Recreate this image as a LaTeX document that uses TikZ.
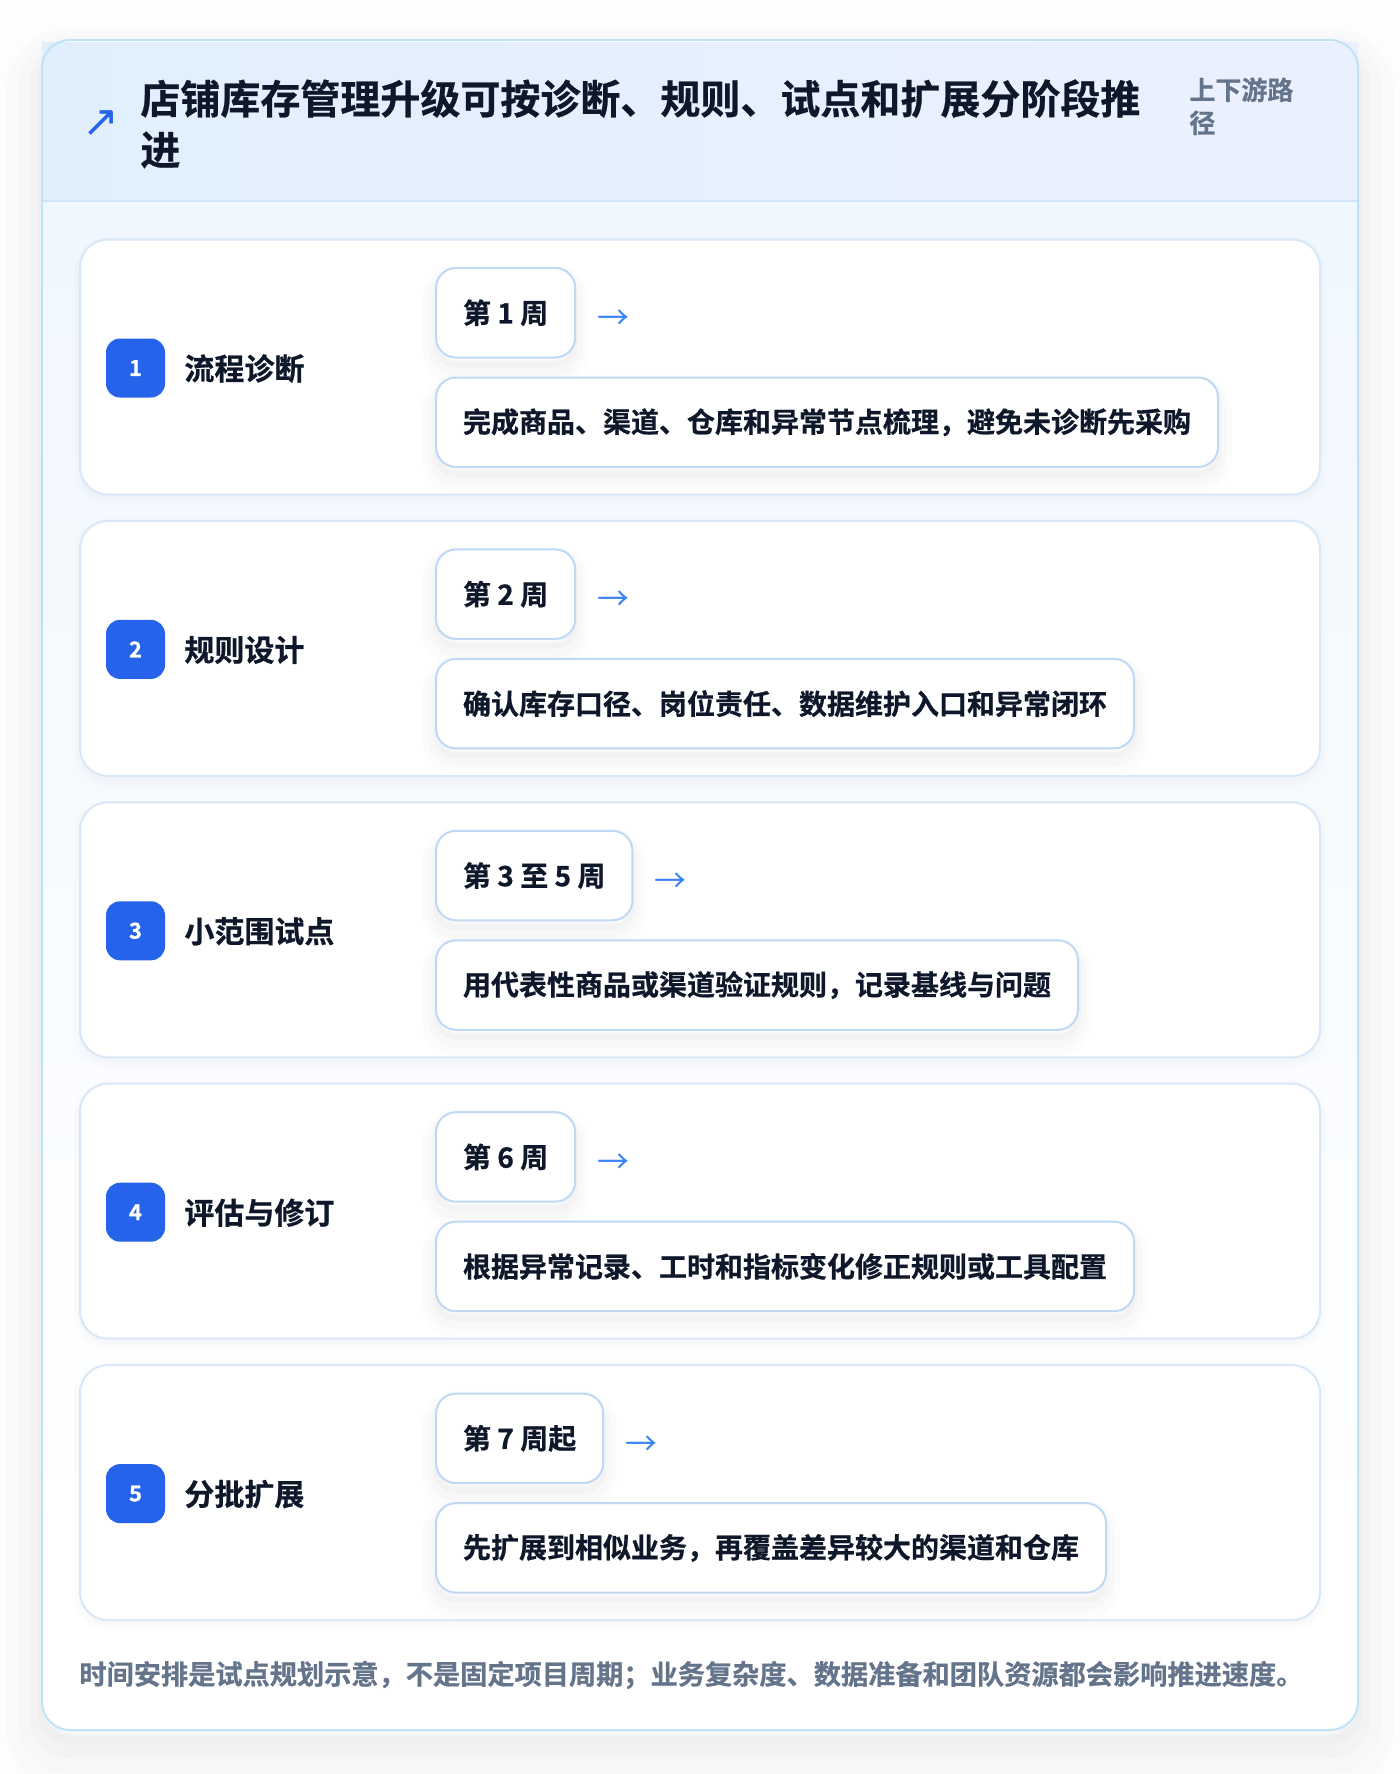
\documentclass[tikz,border=0pt]{standalone}
\usepackage{fontspec}
\setmainfont{Noto Sans CJK SC}[BoldFont={Noto Sans CJK SC Bold}, BoldFeatures={FakeBold=0.6}]
\newfontfamily\symfont{DejaVu Sans}
\usetikzlibrary{calc}
\definecolor{pagebg}{HTML}{FDFDFE}
\definecolor{shadowc}{HTML}{1E293B}
\definecolor{outerborder}{HTML}{BEE3F8}
\definecolor{hdrL}{HTML}{E1EFFD}
\definecolor{hdrR}{HTML}{EBF0FE}
\definecolor{hdrline}{HTML}{D3E5F8}
\definecolor{bodytop}{HTML}{F0F7FE}
\definecolor{cardborder}{HTML}{D8E8F8}
\definecolor{pillborder}{HTML}{BFD8F6}
\definecolor{badgeblue}{HTML}{2563EB}
\definecolor{ink}{HTML}{0F172A}
\definecolor{muted}{HTML}{64748B}
\definecolor{arrowc}{HTML}{3B82F6}
\tikzset{
  softshadow/.style={
    preaction={draw=shadowc, draw opacity=0.012, line width=14pt, transform canvas={yshift=-6pt}},
    preaction={draw=shadowc, draw opacity=0.016, line width=8pt, transform canvas={yshift=-5pt}},
    preaction={draw=shadowc, draw opacity=0.02, line width=3pt, transform canvas={yshift=-3.5pt}}},
  faintshadow/.style={
    preaction={draw=shadowc, draw opacity=0.01, line width=6pt, transform canvas={yshift=-2pt}},
    preaction={draw=shadowc, draw opacity=0.012, line width=2pt, transform canvas={yshift=-1.5pt}}},
  stagecard/.style={faintshadow, draw=cardborder, fill=white, line width=1pt, rounded corners=14pt,
    anchor=north west, minimum width=620pt, minimum height=127.5pt, inner sep=0pt},
  badgebox/.style={fill=badgeblue, rounded corners=7pt, minimum size=29.5pt, inner sep=0pt,
    text=white, font=\fontsize{11}{11}\selectfont\bfseries},
  stagetitle/.style={anchor=west, inner sep=0pt, text=ink, font=\fontsize{15}{15}\selectfont\bfseries},
  pillbox/.style={softshadow, draw=pillborder, fill=white, line width=1pt, rounded corners=10pt,
    anchor=north west, minimum height=44.75pt, inner xsep=13.5pt, inner ysep=0pt,
    text=ink, font=\fontsize{14}{14}\selectfont\bfseries},
  arrowtxt/.style={anchor=west, inner sep=0pt, text=arrowc, font=\fontsize{16}{16}\selectfont},
}
\begin{document}
\begin{tikzpicture}[x=0.5pt,y=-0.5pt]
\useasboundingbox (0,0) rectangle (1400,1774);
\fill[pagebg] (0,0) rectangle (1400,1774);
% outer card with soft shadow
\path[rounded corners=14pt,
  preaction={draw=shadowc, draw opacity=0.01, line width=36pt, transform canvas={yshift=-12pt}},
  preaction={draw=shadowc, draw opacity=0.013, line width=24pt, transform canvas={yshift=-10pt}},
  preaction={draw=shadowc, draw opacity=0.016, line width=12pt, transform canvas={yshift=-8pt}},
  preaction={draw=shadowc, draw opacity=0.018, line width=4pt, transform canvas={yshift=-5pt}},
  fill=white] (42,40) rectangle (1358,1730);
\begin{scope}
  \clip[rounded corners=14pt] (42,40) rectangle (1358,1730);
  \shade[top color=bodytop, bottom color=white] (42,201) rectangle (1358,1560);
\end{scope}
\shade[left color=hdrL, right color=hdrR] (42,42) rectangle (1358,201);
\draw[hdrline, line width=1pt] (42,201) -- (1358,201);
\draw[outerborder, line width=1pt, rounded corners=14pt] (42,40) rectangle (1358,1730);
% header
\node[inner sep=0pt, text=badgeblue, font=\symfont\fontsize{22}{22}\selectfont] (icon) at (101,124) {↗};
\node[anchor=north west, inner sep=0pt, align=left, text=ink,
  font=\fontsize{20}{25.5}\selectfont\bfseries] (title) at (140,79)
  {店铺库存管理升级可按诊断、规则、试点和扩展分阶段推\\进};
\node[anchor=north west, inner sep=0pt, align=left, text=muted,
  font=\fontsize{13}{16.5}\selectfont\bfseries] (tag) at (1189,77) {上下游路\\径};
% stages
\foreach \i/\ttl/\wk/\dsc in {
  1/流程诊断/第 1 周/完成商品、渠道、仓库和异常节点梳理，避免未诊断先采购,
  2/规则设计/第 2 周/确认库存口径、岗位责任、数据维护入口和异常闭环,
  3/小范围试点/第 3 至 5 周/用代表性商品或渠道验证规则，记录基线与问题,
  4/评估与修订/第 6 周/根据异常记录、工时和指标变化修正规则或工具配置,
  5/分批扩展/第 7 周起/先扩展到相似业务，再覆盖差异较大的渠道和仓库}{
  \pgfmathsetmacro\T{238.5+281.4*(\i-1)}
  \node[stagecard] (card\i) at (79,\T) {};
  \node[badgebox] (badge\i) at (135.5,\T+129.5) {\i};
  \node[stagetitle] (stitle\i) at (184,\T+130) {\ttl};
  \node[pillbox] (week\i) at (435,\T+28.5) {\wk};
  \node[arrowtxt] (arrow\i) at ([xshift=10.5pt,yshift=-3.5pt]week\i.east) {→};
  \node[pillbox] (desc\i) at (435,\T+138) {\dsc};
}
% footer
\node[anchor=west, inner sep=0pt, text=muted, font=\fontsize{13.6}{13.6}\selectfont\bfseries] (note) at (79,1675)
  {时间安排是试点规划示意，不是固定项目周期；业务复杂度、数据准备和团队资源都会影响推进速度。};
\end{tikzpicture}
\end{document}
